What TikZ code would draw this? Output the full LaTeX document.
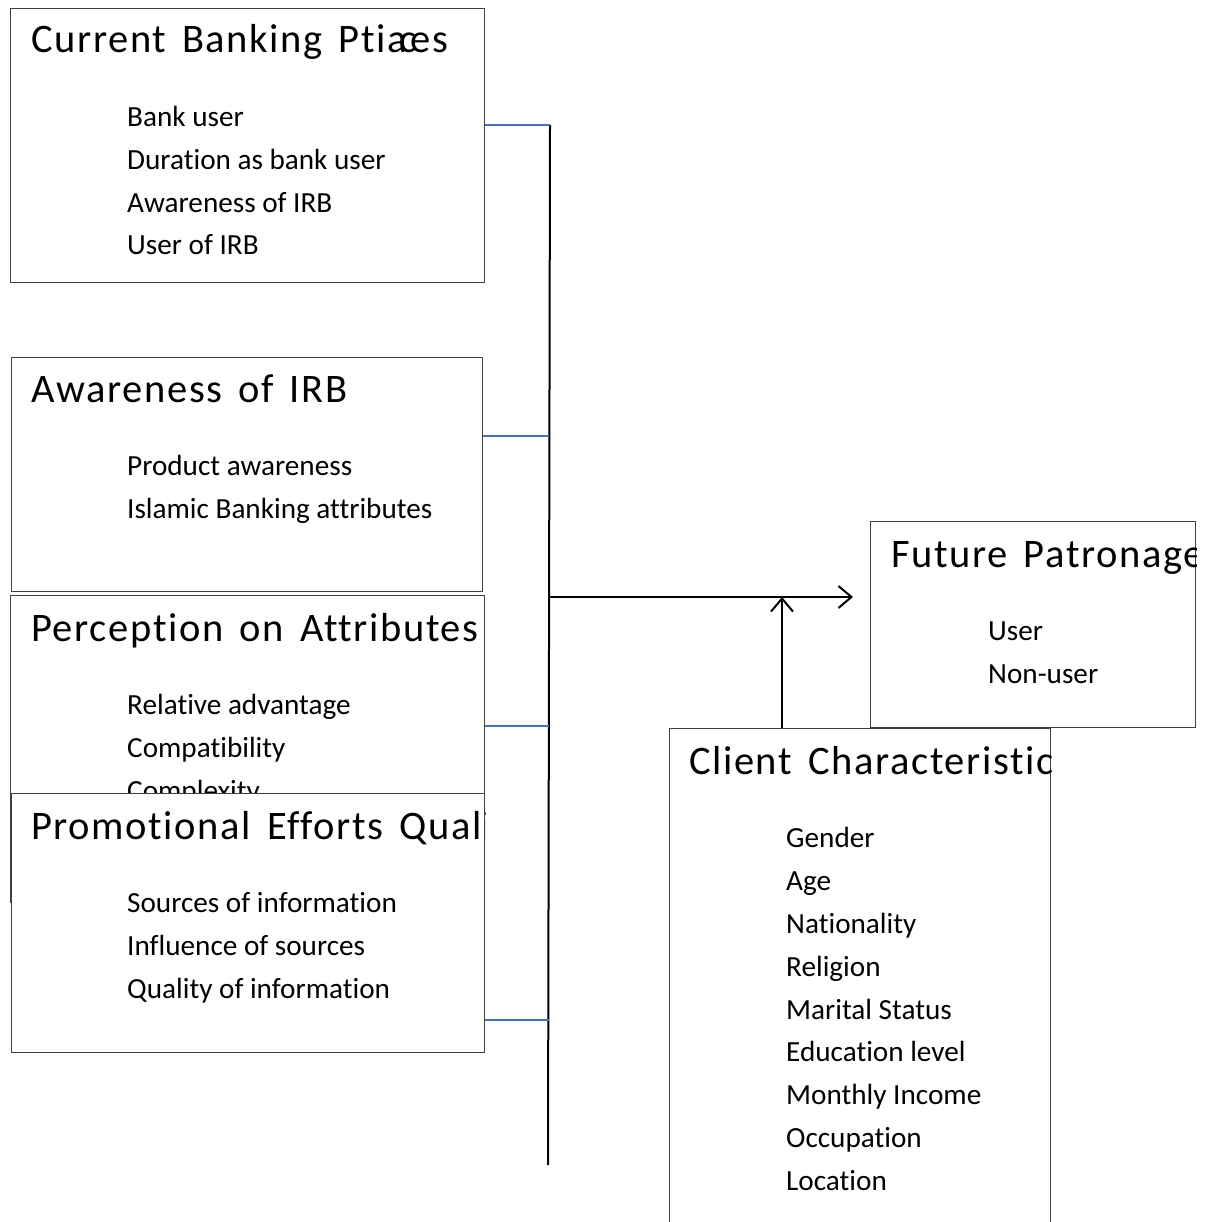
\documentclass[tikz,border=0pt]{standalone}
\usepackage{fontspec}
\setmainfont[Ligatures=NoCommon]{Carlito}
\newfontfamily\ttlfont[Ligatures=NoCommon,LetterSpace=4,WordSpace=1.5]{Carlito}
\usetikzlibrary{arrows.meta}
\definecolor{linkblue}{RGB}{68,114,196}
\definecolor{edgegray}{RGB}{64,64,64}
\tikzset{
  panel/.style={draw=edgegray, line width=1.3pt, fill=white, anchor=north west, inner sep=0pt},
  ttl/.style={anchor=base west, inner sep=0pt, font=\ttlfont\fontsize{40.5}{44}\selectfont},
  itm/.style={anchor=base west, inner sep=0pt, font=\fontsize{29.2}{33}\selectfont},
  feed/.style={draw=linkblue, line width=1.6pt},
  trunk/.style={draw=black, line width=2pt},
  flow/.style={draw=black, line width=2pt, -{Straight Barb[length=13pt,width=22pt,line width=2pt]}}
}
\begin{document}
\begin{tikzpicture}[x=1pt,y=-1pt]
\useasboundingbox (0,0) rectangle (1213,1222);
\clip (0,0) rectangle (1213,1222);

% ---- Current Banking Practices ----
\node[panel, minimum width=474pt, minimum height=274pt] (cbp) at (10,8) {};
\begin{scope}
  \clip (cbp.north west) rectangle (cbp.south east);
  \node[ttl] (cbpT) at (31,53) {Current Banking Ptia\kern-.2em c\kern-.14em es};
  \node[itm] (cbp1) at (127,127) {Bank user};
  \node[itm] (cbp2) at (127,170) {Duration as bank user};
  \node[itm] (cbp3) at (127,213) {Awareness of IRB};
  \node[itm] (cbp4) at (127,255) {User of IRB};
\end{scope}

% ---- Awareness of IRB ----
\node[panel, minimum width=471pt, minimum height=234pt] (aw) at (11,357) {};
\begin{scope}
  \clip (aw.north west) rectangle (aw.south east);
  \node[ttl] (awT) at (31,402) {Awareness of IRB};
  \node[itm] (aw1) at (127,475) {Product awareness};
  \node[itm] (aw2) at (127,518) {Islamic Banking attributes};
\end{scope}

% ---- Perception on Attributes ----
\node[panel, minimum width=474pt, minimum height=307pt] (pa) at (10,595) {};
\begin{scope}
  \clip (pa.north west) rectangle (pa.south east);
  \node[ttl] (paT) at (31,641) {Perception on Attributes};
  \node[itm] (pa1) at (127,714) {Relative advantage};
  \node[itm] (pa2) at (127,757) {Compatibility};
  \node[itm] (pa3) at (127,800) {Complexity};
\end{scope}

% ---- Promotional Efforts Quality (lies over the previous panel) ----
\node[panel, minimum width=473pt, minimum height=259pt] (pe) at (11,793) {};
\begin{scope}
  \clip (pe.north west) rectangle (pe.south east);
  \node[ttl] (peT) at (31,839) {Promotional Efforts Quality};
  \node[itm] (pe1) at (127,912) {Sources of information};
  \node[itm] (pe2) at (127,955) {Influence of sources};
  \node[itm] (pe3) at (127,998) {Quality of information};
\end{scope}

% ---- Future Patronage ----
\node[panel, minimum width=325pt, minimum height=206pt] (fp) at (870,521) {};
\begin{scope}
  \clip (fp.north west) rectangle (fp.south east);
  \node[ttl] (fpT) at (891,567) {Future Patronage};
  \node[itm] (fp1) at (988,640) {User};
  \node[itm] (fp2) at (988,683) {Non-user};
\end{scope}

% ---- Client Characteristics ----
\node[panel, minimum width=381pt, minimum height=520pt] (cc) at (669,728) {};
\begin{scope}
  \clip (cc.north west) rectangle (cc.south east);
  \node[ttl] (ccT) at (689,774) {Client Characteristics};
  \node[itm] (cc1) at (786,847) {Gender};
  \node[itm] (cc2) at (786,890) {Age};
  \node[itm] (cc3) at (786,933) {Nationality};
  \node[itm] (cc4) at (786,976) {Religion};
  \node[itm] (cc5) at (786,1019) {Marital Status};
  \node[itm] (cc6) at (786,1061) {Education level};
  \node[itm] (cc7) at (786,1104) {Monthly Income};
  \node[itm] (cc8) at (786,1147) {Occupation};
  \node[itm] (cc9) at (786,1190) {Location};
\end{scope}

% ---- connectors ----
\coordinate (trunkTop) at (550,125);
\coordinate (trunkBot) at (548,1165);
\coordinate (join) at (550,597);
\coordinate (arrowEnd) at (853,597);
\coordinate (ccUp) at (782,728);
\coordinate (ccTip) at (782,597);

\draw[trunk] (trunkTop) -- (trunkBot);
\draw[feed] (cbp.east |- trunkTop) -- (trunkTop);
\draw[feed] (aw.east |- 0,436) -- (549.4,436);
\draw[feed] (pa.east |- 0,726) -- (549,726);
\draw[feed] (pe.east |- 0,1020) -- (548.6,1020);
\draw[flow] (join) -- (arrowEnd);
\draw[flow] (ccUp) -- (ccTip);
\end{tikzpicture}
\end{document}
